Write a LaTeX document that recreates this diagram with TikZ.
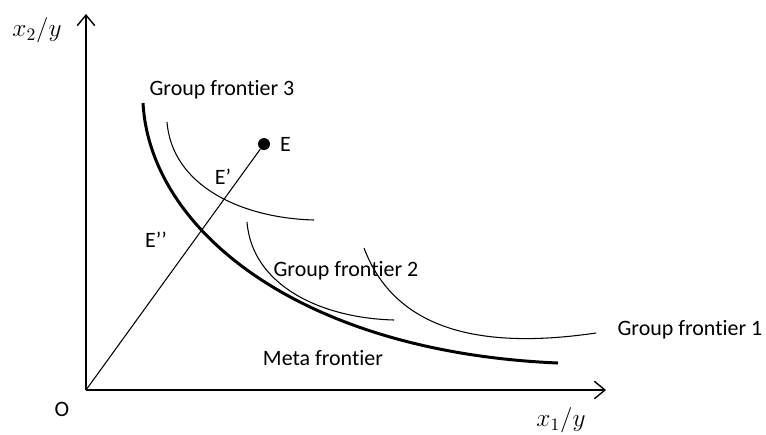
\documentclass[tikz,border=0pt]{standalone}
\usepackage{fontspec}
\setmainfont{Carlito}[RawFeature={-liga;-clig;-calt}]
\usetikzlibrary{arrows.meta}
\tikzset{
  axis/.style={line width=0.8pt, -{Straight Barb[length=6pt, width=10pt]}},
  frontier/.style={line width=0.6pt},
  metafrontier/.style={line width=1.7pt},
  lbl/.style={font=\fontsize{12.5}{14}\selectfont, inner sep=1pt},
  axlbl/.style={font=\fontsize{14}{16}\selectfont, inner sep=1pt},
}

\begin{document}
\begin{tikzpicture}[x=0.02cm, y=-0.02cm]
  \useasboundingbox (0,0) rectangle (766,434);
  % axes
  \coordinate (O) at (86,390);
  \coordinate (ytip) at (86,14);
  \coordinate (xtip) at (606,390);
  \draw[axis] (O) -- (ytip);
  \draw[axis] (O) -- (xtip);
  \node[axlbl] (ylab) at (37,30) {$x_2/y$};
  \node[axlbl] (xlab) at (561,420) {$x_1/y$};
  \node[lbl] (olab) at (62,409) {O};
  % frontiers
  \draw[metafrontier] (143,103) .. controls (150,230) and (300,352) .. (558,363);
  \draw[frontier] (167,122) .. controls (172,185) and (240,218) .. (314,220);
  \draw[frontier] (247,222) .. controls (252,285) and (320,318) .. (394,320);
  \draw[frontier] (364,248) .. controls (395,330) and (480,350) .. (596,333);
  % ray from origin
  \node[circle, fill, inner sep=0pt, minimum size=0.24cm] (E) at (264,144) {};
  \draw[frontier] (O) -- (E);
  \node[lbl, anchor=west] (elab) at (278,144) {E};
  \node[lbl] (e1lab) at (223,177) {E’};
  \node[lbl] (e2lab) at (156,240) {E’’};
  % labels
  \node[lbl] (g3lab) at (222,90) {Group frontier 3};
  \node[lbl] (g2lab) at (346,271) {Group frontier 2};
  \node[lbl] (g1lab) at (690,330) {Group frontier 1};
  \node[lbl] (mlab) at (323,358) {Meta frontier};
\end{tikzpicture}
\end{document}
